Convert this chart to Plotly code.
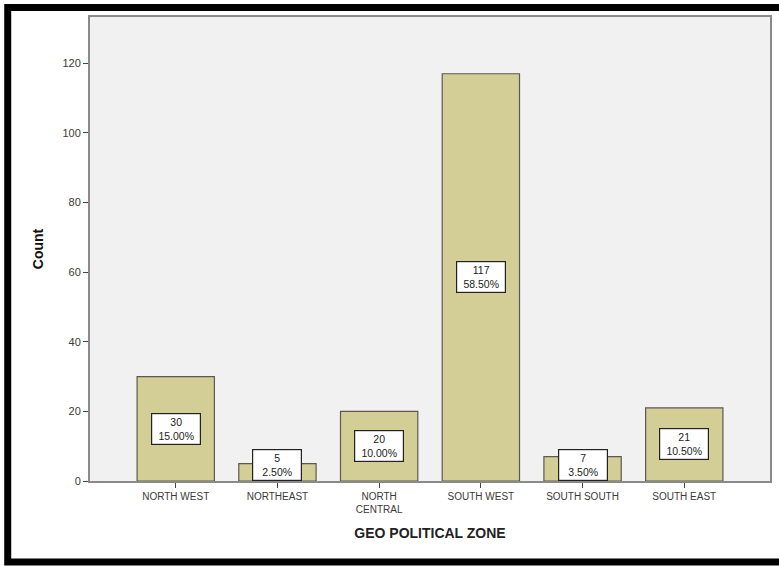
import plotly.graph_objects as go

categories = ["NORTH WEST", "NORTHEAST", "NORTH CENTRAL", "SOUTH WEST", "SOUTH SOUTH", "SOUTH EAST"]
tick_labels = ["NORTH WEST", "NORTHEAST", "NORTH<br>CENTRAL", "SOUTH WEST", "SOUTH SOUTH", "SOUTH EAST"]
counts = [30, 5, 20, 117, 7, 21]
percents = ["15.00%", "2.50%", "10.00%", "58.50%", "3.50%", "10.50%"]
y_ticks = [0, 20, 40, 60, 80, 100, 120]

fig = go.Figure()
fig.add_trace(go.Bar(
    x=categories, y=counts, width=0.76,
    marker=dict(color="#D3CE96", line=dict(color="#5a5a50", width=1.2)),
    hoverinfo="skip",
))

for c, v, p in zip(categories, counts, percents):
    fig.add_annotation(
        x=c, y=max(v / 2, 4.5), xref="x", yref="y",
        text=f"{v}<br>{p}", showarrow=False,
        font=dict(family="Arial, Liberation Sans, sans-serif", size=10.5, color="#222"),
        bgcolor="white", bordercolor="#222", borderwidth=1.2, borderpad=2,
        width=44, align="center",
    )

# outer black frame
fig.add_shape(type="rect", xref="paper", yref="paper",
              x0=-0.121, x1=1.03, y0=-0.1746, y1=1.0205,
              line=dict(color="black", width=7), fillcolor="rgba(0,0,0,0)", layer="above")

fig.update_layout(
    width=779, height=566,
    margin=dict(l=90, r=7, t=17, b=85),
    paper_bgcolor="white",
    plot_bgcolor="#F0F1F0",
    showlegend=False,
    font=dict(family="Arial, Liberation Sans, sans-serif", color="#333"),
)
fig.update_xaxes(
    type="category", range=[-0.843, 5.843],
    tickmode="array", tickvals=categories, ticktext=tick_labels,
    ticks="outside", ticklen=5, tickcolor="#444", tickwidth=1,
    tickfont=dict(size=10, color="#3a3a3a"),
    showline=True, linecolor="#8a8a8a", linewidth=2, mirror=True,
    showgrid=False,
    title=dict(text="<b>GEO POLITICAL ZONE</b>", font=dict(size=14, color="#222"), standoff=14),
)
fig.update_yaxes(
    range=[0, 133.3], tickmode="array", tickvals=y_ticks,
    ticks="outside", ticklen=5, tickcolor="#444", tickwidth=1,
    tickfont=dict(size=11, color="#3a3a3a"),
    showline=True, linecolor="#8a8a8a", linewidth=2, mirror=True,
    showgrid=False, zeroline=False,
    title=dict(text="<b>Count</b>", font=dict(size=14, color="#111"), standoff=16),
)

fig.write_html("out.html")
